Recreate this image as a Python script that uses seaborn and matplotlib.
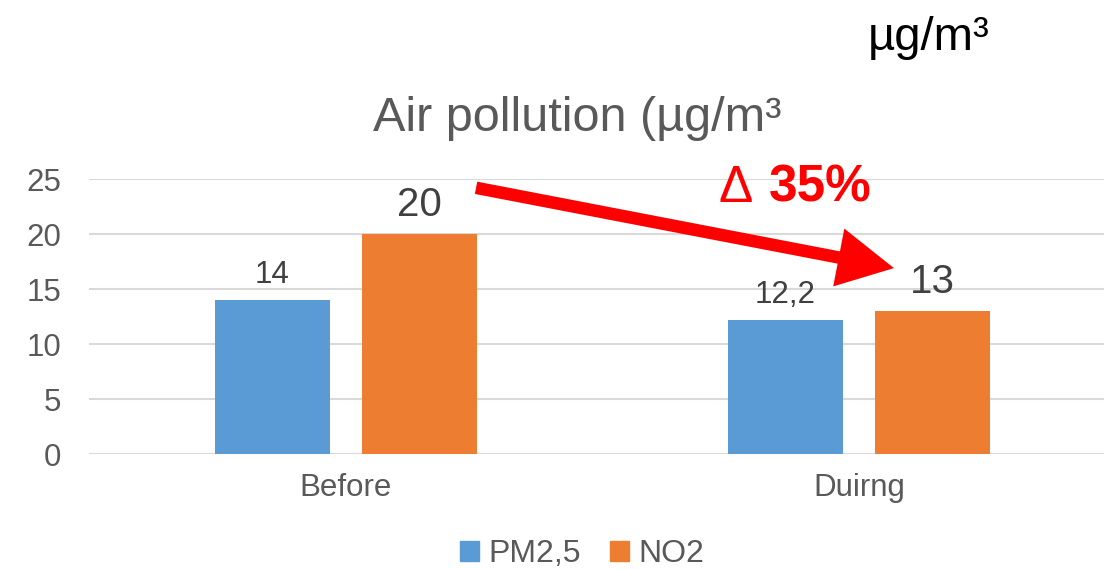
import matplotlib
matplotlib.use("Agg")
import matplotlib.pyplot as plt
import seaborn as sns
import pandas as pd
from matplotlib.patches import Patch

# chart data
periods = ["Before", "Duirng"]
pollutants = ["PM2,5", "NO2"]
pm25 = [14, 12.2]
no2 = [20, 13]
change_text = "35%"
unit_text = "µg/m³"
title_text = "Air pollution (µg/m³"

df = pd.DataFrame({
    "period": periods * 2,
    "pollutant": [pollutants[0]] * len(periods) + [pollutants[1]] * len(periods),
    "value": pm25 + no2,
})

blue = "#5B9BD5"
orange = "#ED7D31"
gray = "#595959"
dark = "#404040"

sns.set_theme(style="white")
plt.rcParams["font.family"] = ["Liberation Sans", "DejaVu Sans"]

fig = plt.figure(figsize=(11.04, 5.69), dpi=100)
ax = fig.add_axes([0.0806, 0.2021, 0.930, 0.4833])

sns.barplot(data=df, x="period", y="value", hue="pollutant",
            order=periods, hue_order=pollutants, palette=[blue, orange],
            width=0.572, gap=0.217, saturation=1, errorbar=None,
            linewidth=0, legend=False, ax=ax)

# value labels, comma decimal
def fmt(v):
    return f"{v:g}".replace(".", ",")

ax.bar_label(ax.containers[0], labels=[fmt(v) for v in pm25],
             fontsize=22.5, color=dark, padding=7)
ax.bar_label(ax.containers[1], labels=[fmt(v) for v in no2],
             fontsize=29, color=dark, padding=7)

ax.set_xlim(-0.5, 1.5)
ax.set_ylim(0, 25)
ax.set_yticks(range(0, 26, 5))
ax.set_xlabel("")
ax.set_ylabel("")
ax.yaxis.grid(True, color="#d9d9d9", lw=1.5)
ax.set_axisbelow(True)
for s in ax.spines.values():
    s.set_visible(False)
ax.tick_params(axis="y", length=0, labelsize=22.5, labelcolor=gray, pad=20)
ax.tick_params(axis="x", length=0, labelsize=22.5, labelcolor=gray, pad=14)

# red arrow between the NO2 bars
ax.annotate("", xy=(1.068, 16.9), xytext=(0.254, 24.2),
            arrowprops=dict(arrowstyle="-|>,head_length=1.05,head_width=0.55",
                            mutation_scale=25, lw=9, color="red",
                            shrinkA=0, shrinkB=0,
                            joinstyle="miter", capstyle="butt"))

fig.text(736 / 1104, 1 - 188 / 569, "Δ", fontsize=37, color="red",
         ha="center", va="center")
fig.text(820 / 1104, 1 - 188 / 569, change_text, fontsize=37, color="red",
         fontweight="bold", ha="center", va="center")

fig.text(577 / 1104, 1 - 118 / 569, title_text, fontsize=35, color=gray,
         ha="center", va="center")
fig.text(929 / 1104, 1 - 38 / 569, unit_text, fontsize=34, color="black",
         ha="center", va="center")

fig.legend(handles=[Patch(color=blue), Patch(color=orange)], labels=pollutants,
           loc="center", bbox_to_anchor=(582 / 1104, 1 - 554 / 569), ncol=2,
           frameon=False, fontsize=23, handlelength=0.6, handleheight=0.6,
           handletextpad=0.3, columnspacing=0.9, labelcolor=gray)

fig.savefig("out.png", dpi=100)
